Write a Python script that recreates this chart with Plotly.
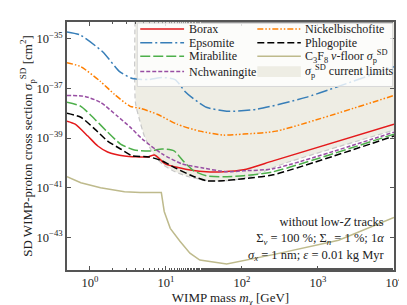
import numpy as np
import plotly.graph_objects as go

# ---------------- data (WIMP mass in GeV, log10 of cross section in cm^2) ----------------
borax_m = [0.5, 0.64, 0.94, 1.27, 1.71, 2.85, 5.7, 7.1, 9.8, 15, 22, 34, 57, 105, 257, 10000]
borax_log = [-38.32, -38.44, -38.92, -39.32, -39.56, -39.72, -39.76, -39.68, -40.04, -40.2, -40.3,
             -40.36, -40.36, -40.28, -39.92, -38.44]

epsomite_m = [0.5, 0.74, 1.47, 2.46, 3.63, 6.0, 8.9, 13.2, 17.8, 21.9, 28, 34, 63, 155, 693, 10000]
epsomite_log = [-34.72, -34.84, -35.52, -36.32, -36.6, -36.64, -36.56, -36.64, -37.12, -37.36,
                -37.6, -37.76, -37.92, -37.84, -37.36, -36.12]

mirabilite_m = [0.5, 0.76, 1.16, 1.71, 2.53, 3.85, 6.2, 8.9, 12.8, 17.3, 23.3, 34, 57, 105, 257, 10000]
mirabilite_log = [-37.56, -37.72, -38.24, -38.76, -39.24, -39.48, -39.52, -39.44, -39.52, -39.96,
                  -40.32, -40.52, -40.56, -40.52, -40.36, -38.84]

nchwaningite_m = [0.5, 0.86, 1.38, 2.31, 3.39, 4.9, 8.9, 16.3, 29.6, 63, 105, 257, 10000]
nchwaningite_log = [-37.28, -37.32, -37.56, -38.12, -38.56, -39.04, -39.64, -40.04, -40.2,
                    -40.36, -40.32, -40.24, -38.76]

nickel_m = [0.5, 0.76, 1.38, 2.11, 3.39, 4.6, 7.7, 14, 27.9, 57, 105, 282, 10000]
nickel_log = [-35.96, -36.12, -36.72, -37.24, -37.72, -37.8, -38.04, -38.44, -38.72, -38.88,
              -38.84, -38.72, -37.28]

phlogopite_m = [0.5, 0.76, 1.16, 1.71, 2.53, 3.63, 6.0, 8.9, 13.2, 21.9, 34, 57, 105, 257, 10000]
phlogopite_log = [-38.0, -38.16, -38.64, -39.12, -39.44, -39.72, -39.76, -39.92, -40.2, -40.52,
                  -40.72, -40.72, -40.64, -40.48, -38.92]

nufloor_m = [0.5, 0.76, 1.38, 1.71, 2.85, 4.6, 8.4, 8.7, 9.5, 11.4, 15.3, 20.7, 27.9, 34, 63, 257, 1870, 10000]
nufloor_log = [-40.56, -40.8, -41.0, -41.04, -41.16, -41.2, -41.2, -41.2, -41.96, -42.64, -43.16,
               -43.64, -43.92, -43.96, -44.08, -43.7, -43.12, -42.2]

limits_m = [3.97, 3.97, 4.48, 5.2, 6.6, 8.9, 13.2, 20, 36.5, 63, 115, 381, 10000]
limits_log = [-33.0, -37.56, -38.24, -38.92, -39.56, -40.04, -40.36, -40.56, -40.72, -40.72,
              -40.6, -40.0, -38.68]
limits_ceiling_log = -33.0

x_tickvals = [1, 10, 100, 1000, 10000]
x_ticktext = ["10<sup>0</sup>", "10<sup>1</sup>", "10<sup>2</sup>", "10<sup>3</sup>", "10<sup>4</sup>"]
y_tickvals = [1e-35, 1e-37, 1e-39, 1e-41, 1e-43]
y_ticktext = ["10<sup>\u221235</sup>", "10<sup>\u221237</sup>", "10<sup>\u221239</sup>",
              "10<sup>\u221241</sup>", "10<sup>\u221243</sup>"]

FONT = "Liberation Serif"
TXT = "#222"
sig = lambda a: (10.0 ** np.array(a)).tolist()

LIMIT_FILL = "rgb(238,237,228)"
FLOOR_COLOR = "rgb(190,186,140)"
LIMIT_NAME = "<i>σ</i><sub>p</sub><sup>SD</sup> current limits"
FLOOR_NAME = "C<sub>3</sub>F<sub>8</sub> <i>ν</i>-floor <i>σ</i><sub>p</sub><sup>SD</sup>"

fig = go.Figure()

# current limits shaded region
lx = limits_m + [limits_m[-1]]
ly = sig(limits_log + [limits_ceiling_log])
fig.add_trace(go.Scatter(x=lx, y=ly, mode="lines", fill="toself", fillcolor=LIMIT_FILL,
                         line=dict(width=0), name=LIMIT_NAME, showlegend=False, hoverinfo="skip"))
fig.add_trace(go.Scatter(x=limits_m, y=sig(limits_log), mode="lines",
                         line=dict(color="rgb(200,200,200)", width=1.2, dash="5px,3px", shape="spline",
                                   smoothing=0.6),
                         showlegend=False))

# neutrino floor
fig.add_trace(go.Scatter(x=nufloor_m, y=sig(nufloor_log), mode="lines",
                         line=dict(color=FLOOR_COLOR, width=1.5), name=FLOOR_NAME, showlegend=False))

series = [
    ("Borax", borax_m, borax_log, "#e41a1c", "solid"),
    ("Epsomite", epsomite_m, epsomite_log, "#377eb8", "12px,3px,2px,3px"),
    ("Mirabilite", mirabilite_m, mirabilite_log, "#4daf4a", "10px,3px"),
    ("Nchwaningite", nchwaningite_m, nchwaningite_log, "#984ea3", "4px,2px"),
    ("Nickelbischofite", nickel_m, nickel_log, "#ff7f00", "6px,2px,1.5px,2px,1.5px,2px"),
    ("Phlogopite", phlogopite_m, phlogopite_log, "#000000", "7px,3px"),
]
for name, m, lg, col, dash in series:
    fig.add_trace(go.Scatter(x=m, y=sig(lg), mode="lines", name=name, showlegend=False,
                             line=dict(color=col, width=1.5, dash=dash, shape="spline", smoothing=0.6)))

axis_common = dict(type="log", showline=True, linecolor="#555", linewidth=1.6, mirror="ticks",
                   ticks="inside", ticklen=4, tickcolor="#555", showgrid=False, zeroline=False,
                   tickfont=dict(family=FONT, size=12.5, color=TXT))

fig.update_xaxes(range=[np.log10(0.5), 4], tickvals=x_tickvals, ticktext=x_ticktext,
                 minor=dict(ticks="inside", ticklen=2, tickcolor="#555", showgrid=False),
                 title=dict(text="WIMP mass <i>m</i><sub>χ</sub> [GeV]", standoff=1,
                            font=dict(family=FONT, size=13, color=TXT)),
                 **axis_common)
fig.update_yaxes(range=[-44.32, -34.32], tickvals=y_tickvals, ticktext=y_ticktext,
                 title=dict(text="SD WIMP-proton cross section <i>σ</i><sub>p</sub><sup>SD</sup> [cm<sup>2</sup>]",
                            standoff=1, font=dict(family=FONT, size=13, color=TXT)),
                 **axis_common)

# ---------------- manual two-column legend (layout positions in paper units) ----------------
shapes = [dict(type="rect", xref="paper", yref="paper", x0=0.215, x1=0.996, y0=0.74, y1=0.996,
               fillcolor="rgba(255,255,255,0.8)", line=dict(color="rgb(215,215,215)", width=1),
               layer="above")]
annotations = []
row_y = [0.972, 0.916, 0.862, 0.800]
col_x = [(0.224, 0.358, 0.368), (0.582, 0.715, 0.722)]
entries = [(s[0], s[3], s[4]) for s in series[:4]] + [(s[0], s[3], s[4]) for s in series[4:]] + \
          [(FLOOR_NAME, FLOOR_COLOR, "solid"), (LIMIT_NAME, None, None)]
for i, (name, col, dash) in enumerate(entries):
    c, r = divmod(i, 4)
    x0, x1, xt = col_x[c]
    y = row_y[r]
    if col is None:
        shapes.append(dict(type="rect", xref="paper", yref="paper", x0=x0, x1=x1, y0=y - 0.022,
                           y1=y + 0.022, fillcolor=LIMIT_FILL, line=dict(width=0), layer="above"))
    else:
        shapes.append(dict(type="line", xref="paper", yref="paper", x0=x0, x1=x1, y0=y, y1=y,
                           line=dict(color=col, width=1.5, dash=dash), layer="above"))
    annotations.append(dict(xref="paper", yref="paper", x=xt, y=y, xanchor="left", yanchor="middle",
                            text=name, showarrow=False, font=dict(family=FONT, size=12, color=TXT)))

annotations.append(dict(
    xref="paper", yref="paper", x=0.98, y=0.02, xanchor="right", yanchor="bottom",
    align="right", showarrow=False, font=dict(family=FONT, size=12.5, color=TXT),
    text="without low-<i>Z</i> tracks<br>Σ<sub><i>ν</i></sub> = 100 %; Σ<sub><i>n</i></sub> = 1 %; 1<i>α</i>"
         "<br><i>σ</i><sub><i>x</i></sub> = 1 nm; <i>ε</i> = 0.01 kg Myr"))

fig.update_layout(
    width=407, height=305,
    margin=dict(l=59, r=18, t=12, b=43),
    plot_bgcolor="white", paper_bgcolor="white",
    font=dict(family=FONT, size=12, color=TXT),
    showlegend=False,
    shapes=shapes,
    annotations=annotations,
)

fig.write_html("out.html")
